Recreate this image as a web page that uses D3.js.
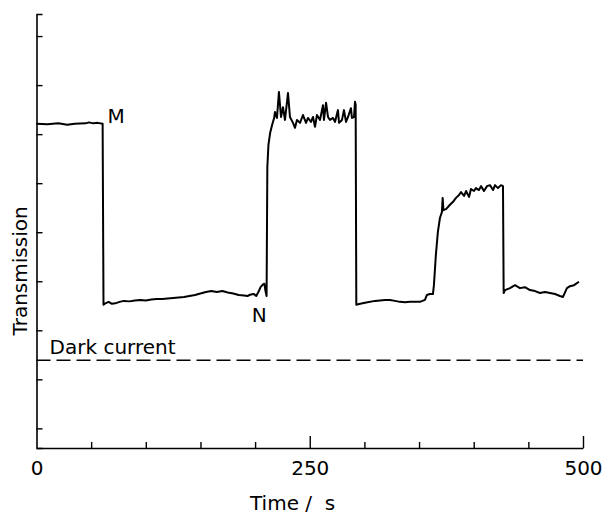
<!DOCTYPE html>
<html>
<head>
<meta charset="utf-8">
<script src="https://cdn.jsdelivr.net/npm/d3@7"></script>
<style>
  html, body { margin: 0; padding: 0; background: #fff; }
  svg { display: block; }
  text { font-family: "DejaVu Sans", sans-serif; fill: #000; }
</style>
</head>
<body>
<svg id="chart" width="607" height="514"></svg>
<script>
// Recorded transmission trace (time in s, transmission in arbitrary units)
const timeS = [
  0, 10, 20, 28, 35, 45, 48, 52, 56, 60.5,
  61.3, 63, 66, 69, 72, 76, 80, 85, 90, 95, 100, 105, 110, 115, 120, 125, 130, 135,
  140, 145, 150, 155, 160, 165, 170, 175, 180, 185, 190, 193, 196, 199, 201, 203,
  205, 207, 208.5, 209.5, 210.5,
  211.2, 212.2, 213.8, 215.6, 217.4, 218.2, 220.0, 221.8, 223.7, 225.5, 227.3, 229.2,
  230.1, 231.9, 234.7, 236.5, 238.3, 241.1, 243.8, 246.6, 248.4, 251.1, 253.0, 254.8,
  256.6, 259.4, 262.1, 263.0, 264.9, 266.7, 268.5, 271.3, 273.1, 275.8, 276.8, 279.5,
  281.3, 283.2, 285.0, 287.7, 288.6, 290.5, 291.4, 292.0,
  292.6, 294.2, 300.5, 309.7, 318.8, 323.4, 328, 332.5, 337.1, 341.7, 346.2, 350.8,
  355.4, 357.2, 359.9, 362.7,
  363.6, 365.4, 367.2, 369.1, 370.9, 371.6, 372.3, 374.7, 378.3, 381.1, 383.8, 386.6,
  388.4, 391.2, 393.0, 395.7, 397.5, 400.3, 402.1, 404.8, 406.7, 409.4, 412.2, 414.9,
  417.7, 419.5, 422.2, 425.0, 426.8,
  427.4, 428.6, 433.2, 437.8, 442.3, 446.9, 451.5, 456.1, 460.6, 465.2, 469.8, 474.4,
  478.9, 481.7, 485.3, 488.1, 491.8, 496.3
];
const transmission = [
  6.21, 6.20, 6.22, 6.19, 6.21, 6.22, 6.24, 6.22, 6.23, 6.21,
  2.52, 2.55, 2.58, 2.54, 2.55, 2.58, 2.60, 2.59, 2.61, 2.62, 2.61, 2.63, 2.64, 2.64, 2.65, 2.66, 2.67, 2.68,
  2.70, 2.72, 2.75, 2.78, 2.80, 2.78, 2.80, 2.77, 2.75, 2.72, 2.71, 2.70, 2.73, 2.74, 2.70, 2.78,
  2.88, 2.93, 2.95, 2.80, 2.70,
  5.33, 5.78, 6.03, 6.19, 6.33, 6.45, 6.33, 6.86, 6.35, 6.55, 6.29, 6.66,
  6.84, 6.35, 6.23, 6.13, 6.29, 6.23, 6.39, 6.23, 6.33, 6.25, 6.35, 6.15,
  6.39, 6.29, 6.59, 6.29, 6.64, 6.35, 6.29, 6.33, 6.25, 6.49, 6.23, 6.29,
  6.49, 6.25, 6.35, 6.53, 6.33, 6.35, 6.66, 6.60,
  2.52, 2.53, 2.56, 2.60, 2.62, 2.62, 2.60, 2.58, 2.57, 2.58, 2.58, 2.58,
  2.62, 2.72, 2.74, 2.74,
  2.92, 3.54, 4.00, 4.29, 4.41, 4.70, 4.45, 4.47, 4.56, 4.62, 4.70, 4.76,
  4.82, 4.74, 4.84, 4.72, 4.88, 4.84, 4.90, 4.86, 4.94, 4.84, 4.94, 4.96,
  4.86, 4.96, 4.90, 4.96, 4.94,
  2.76, 2.82, 2.86, 2.92, 2.86, 2.88, 2.82, 2.80, 2.76, 2.78, 2.76, 2.74,
  2.70, 2.68, 2.86, 2.90, 2.92, 2.99
];
const darkCurrent = 1.39;

// Axis ticks
const xTicks = [0, 50, 100, 150, 200, 250, 300, 350, 400, 450, 500];
const xMajor = [0, 250, 500];
const yTicks = [0, 1, 2, 3, 4, 5, 6, 7, 8];

// Point annotations
const markLabels = [
  { text: "M", t: 65, v: 6.21 },
  { text: "N", t: 197, v: 2.70 }
];

const svg = d3.select("#chart");
const x = d3.scaleLinear().domain([0, 500]).range([36.5, 583]);
const y = d3.scaleLinear().domain([-0.4, 8.45]).range([448, 14]);

// Bottom axis: ticks point inward, longer at labelled values
const gx = svg.append("g")
  .attr("transform", `translate(0,${y.range()[0]})`)
  .call(d3.axisBottom(x)
    .tickValues(xTicks)
    .tickSize(-6)
    .tickSizeOuter(0)
    .tickPadding(13)
    .tickFormat(d => xMajor.includes(d) ? d3.format("d")(d) : ""));
gx.selectAll(".tick line")
  .attr("y2", d => (d === 0 ? 0 : (xMajor.includes(d) ? -12 : -6)));
gx.selectAll(".tick text")
  .style("font-size", "20px")
  .attr("dy", "0.71em");
gx.select(".domain").attr("stroke-width", 1.6);
gx.selectAll(".tick line").attr("stroke-width", 1.4);

// Left axis: unlabelled ticks pointing inward
const gy = svg.append("g")
  .attr("transform", `translate(${x.range()[0]},0)`)
  .call(d3.axisLeft(y)
    .tickValues(yTicks)
    .tickSize(-6)
    .tickSizeOuter(-6)
    .tickFormat(""));
gy.select(".domain").attr("stroke-width", 1.6);
gy.selectAll(".tick line").attr("stroke-width", 1.4);

// Axis titles
svg.append("text")
  .attr("transform", `translate(27,271) rotate(-90)`)
  .attr("text-anchor", "middle")
  .style("font-size", "20px")
  .text("Transmission");

svg.append("text")
  .attr("x", 250)
  .attr("y", 510)
  .style("font-size", "20px")
  .style("white-space", "pre")
  .text("Time /  s");

// Dark current reference level
svg.append("line")
  .attr("x1", x(0)).attr("x2", x(500))
  .attr("y1", y(darkCurrent)).attr("y2", y(darkCurrent))
  .attr("stroke", "#000")
  .attr("stroke-width", 1.4)
  .attr("stroke-dasharray", "14,6");
svg.append("text")
  .attr("x", x(12))
  .attr("y", y(darkCurrent) - 6)
  .style("font-size", "20px")
  .text("Dark current");

// Transmission trace
const pts = timeS.map((t, i) => [t, transmission[i]]);
svg.append("path")
  .datum(pts)
  .attr("fill", "none")
  .attr("stroke", "#000")
  .attr("stroke-width", 2)
  .attr("stroke-linejoin", "round")
  .attr("d", d3.line().x(d => x(d[0])).y(d => y(d[1])));

// M / N markers
svg.append("text")
  .attr("x", x(markLabels[0].t))
  .attr("y", y(markLabels[0].v) - 1)
  .style("font-size", "20px")
  .text(markLabels[0].text);
svg.append("text")
  .attr("x", x(markLabels[1].t))
  .attr("y", y(markLabels[1].v) + 26)
  .style("font-size", "20px")
  .text(markLabels[1].text);
</script>
</body>
</html>
